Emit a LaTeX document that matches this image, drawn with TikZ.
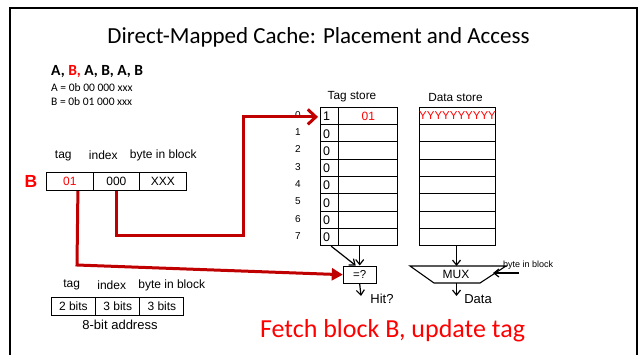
\documentclass[tikz,border=0pt]{standalone}
\usepackage{fontspec}
\setmainfont{Carlito}
\newfontfamily\arialf{Liberation Sans}
\usetikzlibrary{arrows.meta}
\definecolor{txtred}{RGB}{255,0,0}
\definecolor{pathred}{RGB}{192,0,0}
\tikzset{
  fsz/.style={font=\arialf\fontsize{#1}{#1}\selectfont},
  cell/.style={draw, line width=1.1pt, rectangle, inner sep=0pt, anchor=north west},
  lbl/.style={inner sep=0pt, fsz=12},
  redpath/.style={draw=pathred, line width=3pt, line join=miter},
  blkarrow/.style={line width=1.2pt, -{Straight Barb[length=5pt,width=8pt,line width=1.2pt]}},
}
\begin{document}
\begin{tikzpicture}[x=1pt,y=-1pt]
\useasboundingbox (0,0) rectangle (639,354);
% slide frame (open at the bottom)
\draw[line width=2.5pt] (10,360) -- (10,8) -- (637,8) -- (637,360);

% title and access sequence
\node[inner sep=0pt, font=\fontsize{23}{25}\selectfont] (title) at (318.5,37) {Direct-Mapped Cache: Placement and Access};
\node[inner sep=0pt, anchor=west, font=\bfseries\fontsize{15.5}{17}\selectfont] (seq) at (51,72) {A, \textcolor{txtred}{B,} A, B, A, B};
\node[inner sep=0pt, anchor=west, font=\fontsize{11.5}{13}\selectfont] (addra) at (51,88) {A = 0b 00 000 xxx};
\node[inner sep=0pt, anchor=west, font=\fontsize{11.5}{13}\selectfont] (addrb) at (51,101.5) {B = 0b 01 000 xxx};

% address of B split into fields
\node[lbl] (ltag) at (63.3,155.5) {tag};
\node[lbl] (lidx) at (103.3,155.5) {index};
\node[lbl] (lbib) at (163.3,155.5) {byte in block};
\node[inner sep=0pt, text=txtred, font=\arialf\bfseries\fontsize{17.5}{17.5}\selectfont] (bname) at (31,181) {B};
\node[cell, minimum width=46.7pt, minimum height=18.3pt, fsz=12, text=txtred] (atag) at (46,171.7) {01};
\node[cell, minimum width=46.3pt, minimum height=18.3pt, fsz=12] (aidx) at (92.7,171.7) {000};
\node[cell, minimum width=46.7pt, minimum height=18.3pt, fsz=12] (abib) at (139,171.7) {XXX};

% generic address format
\node[lbl] (ftag) at (71.7,285) {tag};
\node[lbl] (fidx) at (111.7,285) {index};
\node[lbl] (fbib) at (171.7,285) {byte in block};
\node[cell, minimum width=44.3pt, minimum height=18.3pt, fsz=12] (btag) at (50.7,296.7) {2 bits};
\node[cell, minimum width=44.3pt, minimum height=18.3pt, fsz=12] (bidx) at (95,296.7) {3 bits};
\node[cell, minimum width=44pt, minimum height=18.3pt, fsz=12] (bbib) at (139.3,296.7) {3 bits};
\node[inner sep=0pt, fsz=13] (fmt) at (120,325) {8-bit address};

% tag store and data store
\node[inner sep=0pt, fsz=11.8] (tslbl) at (352,97) {Tag store};
\node[inner sep=0pt, fsz=11.8] (dslbl) at (455.5,97) {Data store};
\foreach \i in {0,...,7} {
  \pgfmathsetmacro{\yy}{106.7+17.3*\i}
  \node[inner sep=0pt, fsz=10] (n\i) at (298,\yy+8.2) {\i};
  \node[cell, minimum width=18.3pt, minimum height=17.3pt] (v\i) at (320,\yy) {};
  \node[cell, minimum width=59pt, minimum height=17.3pt] (t\i) at (338.3,\yy) {};
  \node[cell, minimum width=76pt, minimum height=17.3pt] (d\i) at (419,\yy) {};
}
\node[inner sep=0pt, fsz=12.5, anchor=west] at ([xshift=3pt,yshift=-0.5pt]v0.west) {1};
\foreach \i in {1,...,7} {
  \node[inner sep=0pt, fsz=12.5, anchor=west] at ([xshift=3pt,yshift=-0.5pt]v\i.west) {0};
}
\node[inner sep=0pt, fsz=12, text=txtred] at (t0) {01};
\node[inner sep=0pt, fsz=11.5, text=txtred] at (d0) {YYYYYYYYYY};

% comparator and multiplexer
\node[draw, line width=1.1pt, minimum width=32.7pt, minimum height=17.3pt, inner sep=0pt, fsz=11.5] (cmp) at (359.7,274.7) {=?};
\draw[line width=1.1pt] (410,266) coordinate (muxtl) -- (506,266) coordinate (muxtr)
  -- (480,283) coordinate (muxbr) -- (434,283) coordinate (muxbl) -- cycle;
\node[inner sep=0pt, fsz=12] (mux) at (456,274.5) {MUX};
\coordinate (muxtop) at (456.5,266);
\coordinate (muxbot) at (456.5,283);
\coordinate (muxright) at (493,273);
\node[inner sep=0pt, fsz=9, anchor=west] (bibsel) at (503,265.5) {byte in block};
\coordinate (bibsrc) at (519,273);
\node[inner sep=0pt, fsz=13] (hit) at (382,299) {Hit?};
\node[inner sep=0pt, fsz=13] (data) at (478,299.5) {Data};
\coordinate (hitend) at (361,296);
\coordinate (dataend) at (456.5,296);

% black data-flow arrows
\draw[blkarrow] (cmp.north |- t7.south) -- (cmp.north);
\draw[blkarrow] ([xshift=1.5pt]v7.south) -- ([xshift=-4pt]cmp.north);
\draw[blkarrow] (cmp.south) -- (hitend);
\draw[blkarrow] (muxtop |- d7.south) -- (muxtop);
\draw[blkarrow] (muxbot) -- (dataend);
\draw[blkarrow] (bibsrc) -- (muxright);

% red paths: index selects the set, tag goes to the comparator
\coordinate (idxbend) at (243,235);
\draw[redpath, -{Straight Barb[length=8pt,width=15pt,line width=3pt]}]
  (aidx.south) |- (idxbend) |- ([xshift=-2pt,yshift=-1pt]v0.west);
\coordinate (tagbend) at (77,265);
\draw[redpath, -{Triangle[length=11pt,width=12pt]}]
  ([xshift=8pt]atag.south) -- (tagbend) -- (cmp.west);

% caption
\node[inner sep=0pt, text=txtred, font=\fontsize{26}{28}\selectfont] (cap) at (392.5,331) {Fetch block B, update tag};
\end{tikzpicture}
\end{document}
